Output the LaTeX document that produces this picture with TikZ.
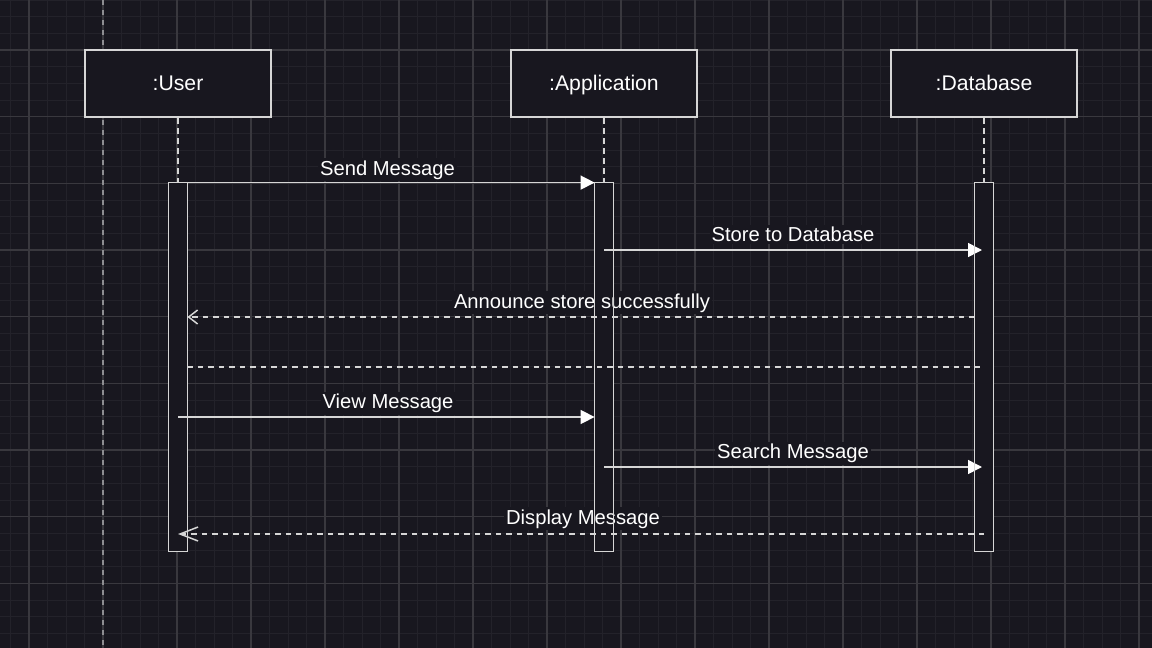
\documentclass[tikz,border=0pt]{standalone}
\usepackage{fontspec}
\setmainfont{Liberation Sans}
\usetikzlibrary{arrows.meta}
\definecolor{bg}{HTML}{18171F}
\definecolor{gridminor}{HTML}{23222A}
\definecolor{gridmajor}{HTML}{39383E}
\definecolor{ln}{HTML}{D6D6D6}
\definecolor{frameln}{HTML}{8E8E92}
\begin{document}
\begin{tikzpicture}[x=0.5pt,y=-0.5pt,
  actor/.style={draw=ln, line width=1pt, fill=bg, minimum width=93pt, minimum height=33.5pt, inner sep=0pt, text=white, text height=9pt, text depth=1.7pt, font=\fontsize{10.6}{12}\selectfont},
  actbar/.style={fill=bg, minimum width=9pt, minimum height=184pt, inner sep=0pt},
  actedge/.style={draw=ln, line width=0.8pt},
  lifeline/.style={draw=ln, line width=1pt, dash pattern=on 2.75pt off 2.25pt},
  frameline/.style={draw=frameln, line width=1pt, dash pattern=on 2.5pt off 2.5pt},
  msg/.style={draw=ln, line width=0.75pt, -{Triangle[length=7pt,width=7pt,fill=white,color=white]}},
  reply/.style={draw=ln, line width=0.75pt, dash pattern=on 2.75pt off 2.5pt},
  msglabel/.style={fill=bg, inner sep=1pt, text=white, anchor=base, font=\fontsize{10.1}{12}\selectfont}]

\useasboundingbox (0,0) rectangle (1152,648);
\fill[bg] (0,0) rectangle (1152,648);
% grid
\foreach \i in {0,...,62} \draw[gridminor, line width=0.5pt] ({10.5+18.5*\i},0) -- ({10.5+18.5*\i},648);
\foreach \j in {0,...,39} \draw[gridminor, line width=0.5pt] (0,{16.667*\j}) -- (1152,{16.667*\j});
\foreach \i in {0,...,15} \draw[gridmajor, line width=0.6pt] ({29+74*\i},0) -- ({29+74*\i},648);
\foreach \j in {0,...,9} \draw[gridmajor, line width=0.6pt] (0,{50+66.667*\j}) -- (1152,{50+66.667*\j});

% frame dashed line
\coordinate (ftop) at (103,0);
\coordinate (fbot) at (103,648);
\draw[frameline] (ftop) -- (fbot);

% participants
\node[actor] (user) at (178,83.5) {:User};
\node[actor] (app) at (604,83.5) {:Application};
\node[actor] (db) at (984,83.5) {:Database};

% activations
\node[actbar] (au) at (178,367) {};
\node[actbar] (aa) at (604,367) {};
\node[actbar] (ad) at (984,367) {};

% lifelines
\draw[lifeline] (user.south) -- (au.north);
\draw[lifeline] (app.south) -- (aa.north);
\draw[lifeline] (db.south) -- (ad.north);

% message rows
\coordinate (r2) at (0,250);
\coordinate (r3) at (0,317);
\coordinate (r4) at (0,367);
\coordinate (r5) at (0,417);
\coordinate (r6) at (0,467);
\coordinate (r7) at (0,534);

\draw[msg] (au.north east) -- (aa.north west);
\draw[msg] (aa.center |- r2) -- ([xshift=-1pt]ad.center |- r2);
\draw[reply, -{Straight Barb[length=4.5pt,width=7pt]}] (ad.west |- r3) -- (au.east |- r3);
\draw[reply] (au.east |- r4) -- (ad.center |- r4);
\draw[msg] (au.center |- r5) -- (aa.west |- r5);
\draw[msg] (aa.center |- r6) -- ([xshift=-1pt]ad.center |- r6);
\draw[reply, -{Straight Barb[length=9pt,width=7pt]}] (ad.center |- r7) -- (au.center |- r7);

% labels
\node[msglabel] (l1) at (387.5,175) {Send Message};
\node[msglabel] (l2) at (793,241.5) {Store to Database};
\node[msglabel] (l3) at (582,308) {Announce store successfully};
\node[msglabel] (l5) at (388,408.5) {View Message};
\node[msglabel] (l6) at (793,458.5) {Search Message};
\node[msglabel] (l7) at (583,524) {Display Message};

% activation outlines on top
\draw[actedge] (au.south west) rectangle (au.north east);
\draw[actedge] (aa.south west) rectangle (aa.north east);
\draw[actedge] (ad.south west) rectangle (ad.north east);
\end{tikzpicture}
\end{document}
